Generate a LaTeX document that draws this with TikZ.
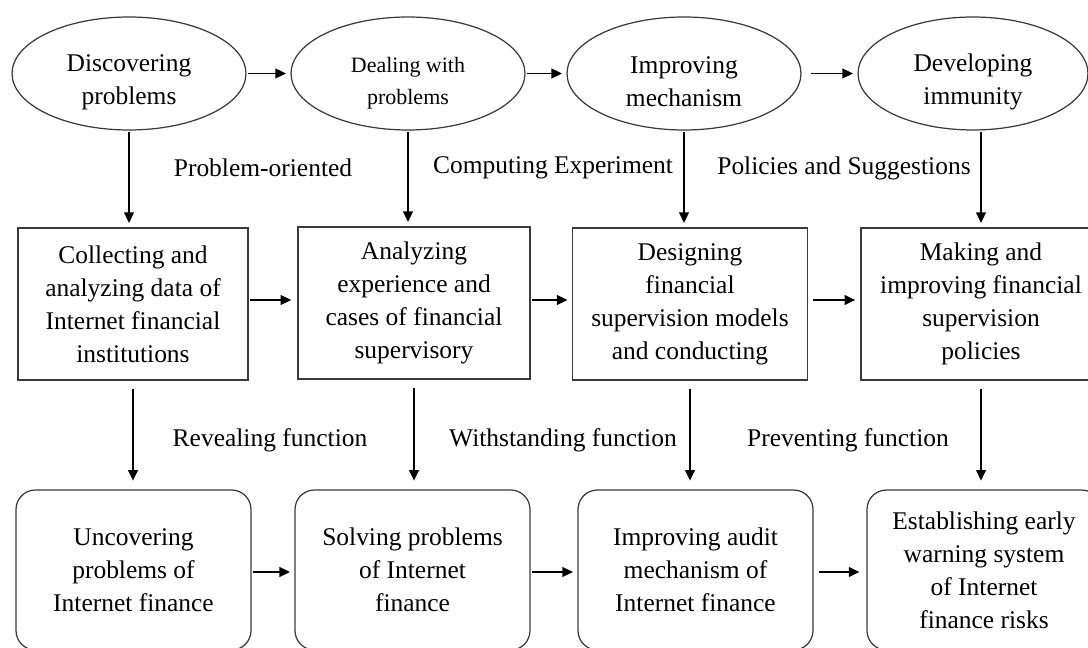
\documentclass[tikz,border=0pt]{standalone}
\usepackage{fontspec}
\setmainfont{Liberation Serif}
\usepackage{xcolor}
\usepackage{tikz}
\usetikzlibrary{arrows.meta, positioning, calc, shapes.geometric}
\definecolor{edge}{HTML}{3A3A3A}

\begin{document}
\begin{tikzpicture}[
  x=0.02cm, y=-0.02cm,
  stage/.style={draw=edge, ellipse, line width=0.7pt, inner sep=0pt,
                minimum height=2.26cm, align=center, text height=38pt,
                font=\fontsize{14.5}{18.8}\selectfont},
  task/.style={draw=edge, rectangle, line width=0.7pt, inner sep=0pt,
               minimum height=3.04cm, align=center,
               font=\fontsize{14.5}{18.8}\selectfont},
  goal/.style={draw=edge, rectangle, rounded corners=11pt, line width=0.7pt,
               inner sep=0pt, minimum height=3.2cm, align=center,
               font=\fontsize{14.5}{18.8}\selectfont},
  note/.style={font=\fontsize{14.5}{16}\selectfont, inner sep=0pt},
  arr/.style={-{Triangle[length=6pt, width=5.5pt]}, line width=1pt,
              shorten >=2.5pt, shorten <=1pt}
]
  \useasboundingbox (0,0) rectangle (1088,648);

  % Top row
  \node[stage, minimum width=4.68cm] (discover) at (129,73.5) {Discovering\\problems};
  \node[stage, minimum width=4.68cm, font=\fontsize{12.5}{18.5}\selectfont]
    (deal) at (408,73.5) {Dealing with\\problems};
  \node[stage, minimum width=4.68cm] (mechanism) at (684,73.5) {Improving\\mechanism};
  \node[stage, minimum width=4.6cm] (immunity) at (973,73.5) {Developing\\immunity};

  % Middle row
  \node[task, minimum width=4.6cm] (collect) at (133,304)
    {Collecting and\\analyzing data of\\Internet financial\\institutions};
  \node[task, minimum width=4.64cm] (analyze) at (414,303)
    {Analyzing\\experience and\\cases of financial\\supervisory};
  \node[task, minimum width=4.7cm] (design) at (690,304)
    {Designing\\financial\\supervision models\\and conducting};
  \node[task, minimum width=4.8cm] (policy) at (981,304)
    {Making and\\improving financial\\supervision\\policies};

  % Bottom row
  \node[goal, minimum width=4.7cm] (uncover) at (133.5,570)
    {Uncovering\\problems of\\Internet finance};
  \node[goal, minimum width=4.7cm] (solve) at (412.5,570)
    {Solving problems\\of Internet\\finance};
  \node[goal, minimum width=4.7cm] (audit) at (695.5,570)
    {Improving audit\\mechanism of\\Internet finance};
  \node[goal, minimum width=4.68cm] (warning) at (984,570)
    {Establishing early\\warning system\\of Internet\\finance risks};

  % Labels
  \node[note] (lblproblem) at (263,168) {Problem-oriented};
  \node[note] (lblcompute) at (553,168) {Computing Experiment};
  \node[note] (lblpolicy) at (844,168) {Policies and Suggestions};
  \node[note] (lblreveal) at (270,440) {Revealing function};
  \node[note] (lblwithstand) at (563,440) {Withstanding function};
  \node[note] (lblprevent) at (848,440) {Preventing function};

  % Arrows
  \draw[arr] (discover) -- (deal);
  \draw[arr] (deal) -- (mechanism);
  \draw[arr, shorten <=5.5pt] (mechanism) -- (immunity);

  \draw[arr] (discover.south) -- (discover.south |- collect.north);
  \draw[arr] (deal.south) -- (deal.south |- analyze.north);
  \draw[arr] (mechanism.south) -- (mechanism.south |- design.north);
  \draw[arr] (policy.north |- immunity.south) -- (policy.north);

  \draw[arr, shorten >=3.5pt] (collect.east |- 0,300) -- (analyze.west |- 0,300);
  \draw[arr] (analyze.east |- 0,300) -- (design.west |- 0,300);
  \draw[arr, shorten <=3pt, shorten >=3pt] (design.east |- 0,300) -- (policy.west |- 0,300);

  \draw[arr, shorten <=5pt, shorten >=5pt] (collect.south) -- (collect.south |- uncover.north);
  \draw[arr, shorten <=5pt, shorten >=5pt] (analyze.south) -- (analyze.south |- solve.north);
  \draw[arr, shorten <=5pt, shorten >=5pt] (design.south) -- (design.south |- audit.north);
  \draw[arr, shorten <=5pt, shorten >=5pt] (policy.south) -- (policy.south |- warning.north);

  \draw[arr] (uncover.east |- 0,572) -- (solve.west |- 0,572);
  \draw[arr] (solve.east |- 0,572) -- (audit.west |- 0,572);
  \draw[arr, shorten <=3pt, shorten >=4pt] (audit.east |- 0,572) -- (warning.west |- 0,572);
\end{tikzpicture}
\end{document}
